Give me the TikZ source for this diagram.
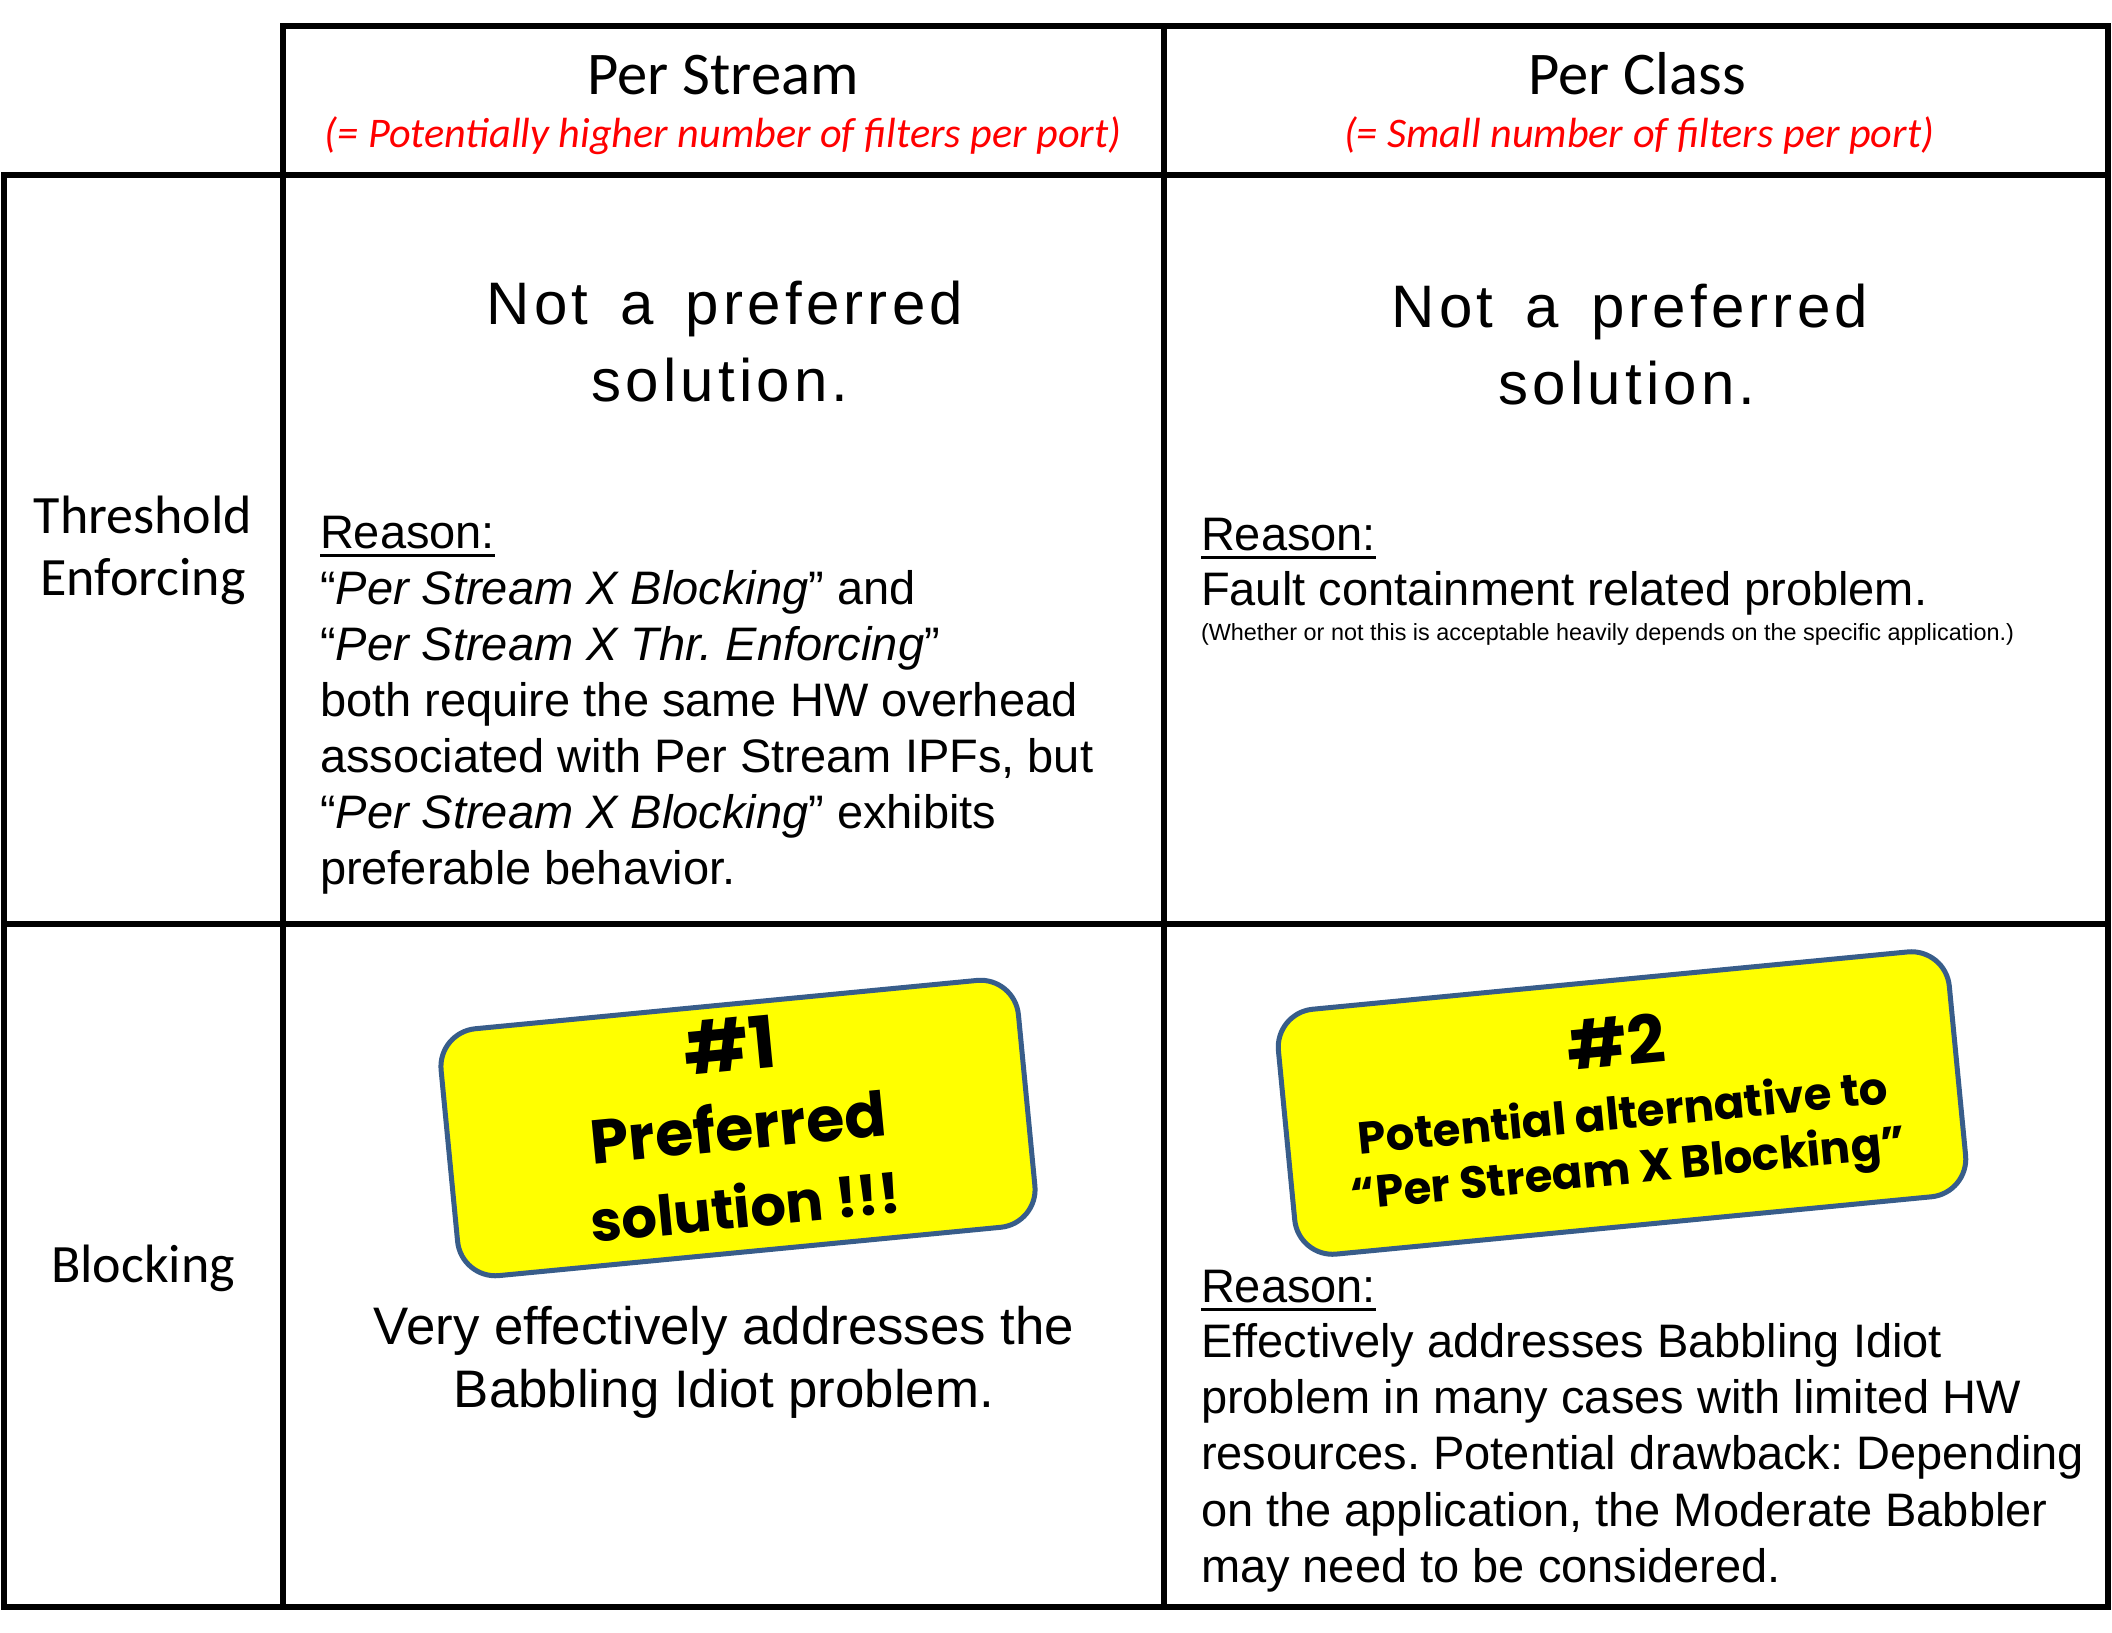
\documentclass[tikz,border=0pt]{standalone}
\usepackage{fontspec}
\setmainfont{Liberation Sans}
\newfontfamily\hdrfont{Carlito}
\newfontfamily\verdictfont{Liberation Sans}[LetterSpace=7]
\newfontfamily\stkfont{Poppins}
\definecolor{stkedge}{RGB}{56,93,138}
\definecolor{stkfill}{RGB}{255,255,0}
\definecolor{redtxt}{RGB}{255,0,0}
\newcommand\myul[1]{\setbox0\hbox{#1}\rlap{\rule[-4.5pt]{\wd0}{1.5pt}}\box0}
\newcommand\verdictsetup{\verdictfont\fontsize{30}{36}\selectfont}
\newcommand\vgap{\hspace{16pt}}
\newcommand\stksize[1]{\stkfont\bfseries\fontsize{#1}{36}\selectfont}
\frenchspacing
\begin{document}
\begin{tikzpicture}[x=0.5pt,y=-0.5pt,
  every node/.style={inner sep=0pt, outer sep=0pt},
  gridline/.style={line width=2.8pt, line cap=rect},
  colhead/.style={anchor=base, font=\hdrfont\fontsize{30.3}{36}\selectfont},
  colsub/.style={anchor=base, text=redtxt, font=\hdrfont\itshape\fontsize{21.1}{25}\selectfont},
  rowhead/.style={anchor=base, font=\hdrfont\fontsize{27}{32}\selectfont},
  verdict/.style={anchor=base, font=\verdictsetup},
  bodyl/.style={anchor=base west, font=\fontsize{23.5}{28}\selectfont},
  bodyc/.style={anchor=base, font=\fontsize{26.4}{31}\selectfont},
  smallnote/.style={anchor=base west, font=\fontsize{11.7}{14}\selectfont},
  sticker/.style={draw=stkedge, fill=stkfill, line width=2.5pt, rounded corners=19pt},
  stktext/.style={anchor=base},
]
\useasboundingbox (0,0) rectangle (2112,1632);
\fill[white] (0,0) rectangle (2112,1632);

% table grid
\draw[gridline] (283,26) -- (2108,26);
\draw[gridline] (4,175) -- (2108,175);
\draw[gridline] (4,924) -- (2108,924);
\draw[gridline] (4,1607) -- (2108,1607);
\draw[gridline] (4,175) -- (4,1607);
\draw[gridline] (283,26) -- (283,1607);
\draw[gridline] (1164,26) -- (1164,1607);
\draw[gridline] (2108,26) -- (2108,1607);

% column headers
\node[colhead] (hps) at (723,95) {Per Stream};
\node[colsub] (hpss) at (723,148) {(= Potentially higher number of filters per port)};
\node[colhead] (hpc) at (1637,95) {Per Class};
\node[colsub] (hpcs) at (1639,148) {(= Small number of filters per port)};

% row headers
\node[rowhead] (rte1) at (143,533) {Threshold};
\node[rowhead] (rte2) at (143,595) {Enforcing};
\node[rowhead] (rbl) at (143,1282) {Blocking};

% top-left cell
\node[verdict] (v1a) at (725,324) {Not\vgap a\vgap preferred};
\node[verdict] (v1b) at (720,401) {solution.};
\node[bodyl] (l1) at (320,548) {\myul{Reason:}};
\node[bodyl] (l2) at (320,604) {“\textit{Per Stream X Blocking}” and};
\node[bodyl] (l3) at (320,660) {“\textit{Per Stream X Thr. Enforcing}”};
\node[bodyl] (l4) at (320,716) {both require the same HW overhead};
\node[bodyl] (l5) at (320,772) {associated with Per Stream IPFs, but};
\node[bodyl] (l6) at (320,828) {“\textit{Per Stream X Blocking}” exhibits};
\node[bodyl] (l7) at (320,884) {preferable behavior.};

% top-right cell
\node[verdict] (v2a) at (1630,327) {Not\vgap a\vgap preferred};
\node[verdict] (v2b) at (1627,404) {solution.};
\node[bodyl] (r1) at (1201,550) {\myul{Reason:}};
\node[bodyl] (r2) at (1201,605) {Fault containment related problem.};
\node[smallnote] (r3) at (1201,640) {(Whether or not this is acceptable heavily depends on the specific application.)};

% bottom-left cell
\begin{scope}[shift={(738,1128)}, rotate=5.5, transform shape]
  \node[sticker, minimum width=290pt, minimum height=124pt] (s1) at (0,0) {};
  \node[stktext, font=\stksize{36}] (s1a) at (0,-57) {\#1};
  \node[stktext, font=\stksize{31}] (s1b) at (0,22) {Preferred};
  \node[stktext, font=\stksize{28}] (s1c) at (0,100) {solution !!!};
\end{scope}
\node[bodyc] (b1) at (724,1344) {Very effectively addresses the};
\node[bodyc] (b2) at (724,1407) {Babbling Idiot problem.};

% bottom-right cell
\begin{scope}[shift={(1622,1103)}, rotate=5.5, transform shape]
  \node[sticker, minimum width=337pt, minimum height=123pt] (s2) at (0,0) {};
  \node[stktext, font=\stksize{33.3}] (s2a) at (0,-37) {\#2};
  \node[stktext, font=\stksize{22.5}] (s2b) at (0,26) {Potential alternative to};
  \node[stktext, font=\stksize{22.5}] (s2c) at (0,81) {“Per Stream X Blocking”};
\end{scope}
\node[bodyl] (q1) at (1201,1302) {\myul{Reason:}};
\node[bodyl] (q2) at (1201,1357) {Effectively addresses Babbling Idiot};
\node[bodyl] (q3) at (1201,1413) {problem in many cases with limited HW};
\node[bodyl] (q4) at (1201,1469) {resources. Potential drawback: Depending};
\node[bodyl] (q5) at (1201,1526) {on the application, the Moderate Babbler};
\node[bodyl] (q6) at (1201,1582) {may need to be considered.};
\end{tikzpicture}
\end{document}
